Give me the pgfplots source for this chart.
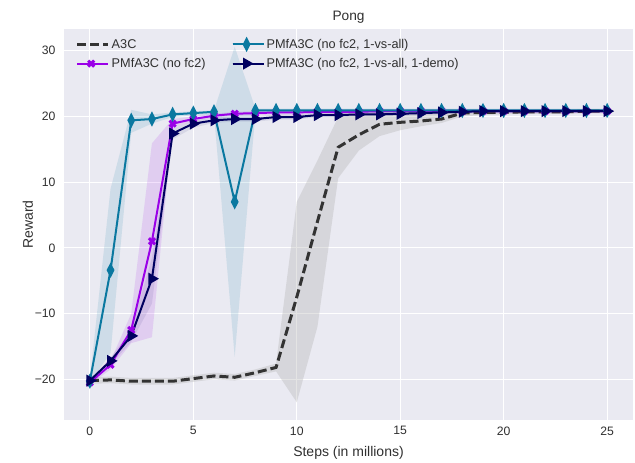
\documentclass[border=0pt]{standalone}
\usepackage{pgfplots}
\pgfplotsset{compat=1.18}
\usepackage{fontspec}
\setmainfont{Liberation Sans}
\usetikzlibrary{plotmarks,calc}
\definecolor{sbbg}{HTML}{EAEAF2}
\definecolor{cteal}{HTML}{0A78A0}
\definecolor{cpurp}{HTML}{9A00E8}
\definecolor{cnavy}{HTML}{000060}
\definecolor{cgray}{HTML}{333333}
\definecolor{txt}{HTML}{303030}
\begin{document}
\begin{tikzpicture}
\begin{axis}[
  name=ax,
  scale only axis, width=569pt, height=391pt,
  xmin=-1.25, xmax=26.25, ymin=-26.2, ymax=33.3,
  axis background/.style={fill=sbbg},
  axis line style={draw=none},
  major tick length=0pt,
  grid=major, grid style={white, line width=1pt},
  xtick={0,5,10,15,20,25}, xticklabels={0,5,10,15,20,25},
  ytick={-20,-10,0,10,20,30}, yticklabels={−20,−10,0,10,20,30},
  tick label style={font=\fontsize{12.2}{14}\selectfont, text=txt},
  xticklabel style={yshift=-3pt},
  yticklabel style={xshift=-5pt},
  xlabel={Steps (in millions)}, ylabel={Reward},
  xlabel style={font=\fontsize{14}{16}\selectfont, text=txt, at={(axis description cs:0.5,-0.0844)}, anchor=center},
  ylabel style={font=\fontsize{14}{16}\selectfont, text=txt, at={(axis description cs:-0.0633,0.5)}, anchor=center},
  title={Pong}, title style={font=\fontsize{13.7}{16}\selectfont, text=txt, yshift=-3.5pt},
  legend columns=2, transpose legend,
  legend style={at={(axis description cs:0.015,0.985)}, anchor=north west, draw=none, fill=none,
    font=\fontsize{12.7}{15}\selectfont, text=txt,
    /tikz/every even column/.append style={column sep=24pt},
    row sep=4.5pt},
  legend cell align=left,
  legend image code/.code={\path (0pt,0pt) -- (31pt,0pt); \draw[mark repeat=2,mark phase=2,#1] plot coordinates {(0pt,0pt)(14pt,0pt)(28pt,0pt)};},
]
% bands
\addplot[fill=gray!60, fill opacity=0.35, draw=none, forget plot] coordinates {
(0,-19.7)(1,-19.6)(2,-19.8)(3,-19.8)(4,-19.8)(5,-19.4)(6,-19.0)(7,-19.2)(8,-18.5)(9,-17.6)(10,7)(11,13.3)(12,19.9)(13,20.5)(14,20.7)(15,20.8)(16,20.8)(17,20.9)(18,21.0)(19,21.0)(20,21.0)(21,21.0)(22,21.1)(23,21.1)(24,21.1)(25,21.1)
(25,20.5)(24,20.5)(23,20.4)(22,20.4)(21,20.4)(20,20.3)(19,20.2)(18,20.0)(17,19.0)(16,18.5)(15,17.9)(14,17.0)(13,14.8)(12,10.6)(11,-12)(10,-23.5)(9,-18.8)(8,-19.5)(7,-20.2)(6,-20.0)(5,-20.4)(4,-20.8)(3,-20.8)(2,-20.8)(1,-20.6)(0,-20.7)} -- cycle;
\addplot[fill=cpurp, fill opacity=0.12, draw=none, forget plot] coordinates {
(0,-20.2)(1,-17.2)(2,-10)(3,15.9)(4,19.6)(5,20.0)(6,20.4)(7,20.7)(8,20.8)(9,20.9)(10,20.9)(11,21.0)(12,21.0)(13,21.0)(14,21.1)(15,21.1)(16,21.1)(17,21.1)(18,21.1)(19,21.1)(20,21.1)(21,21.1)(22,21.1)(23,21.1)(24,21.1)(25,21.1)
(25,20.5)(24,20.5)(23,20.5)(22,20.5)(21,20.5)(20,20.5)(19,20.5)(18,20.5)(17,20.5)(16,20.5)(15,20.5)(14,20.5)(13,20.4)(12,20.4)(11,20.4)(10,20.3)(9,20.3)(8,20.2)(7,20.1)(6,19.8)(5,19.2)(4,18.3)(3,-13.6)(2,-14.5)(1,-18.5)(0,-20.8)} -- cycle;
\addplot[fill=cteal, fill opacity=0.12, draw=none, forget plot] coordinates {
(0,-20.0)(1,9)(2,21.0)(3,20.3)(4,20.6)(5,20.8)(6,20.9)(7,30.6)(8,21.2)(9,21.2)(10,21.2)(11,21.2)(12,21.2)(13,21.2)(14,21.2)(15,21.2)(16,21.2)(17,21.2)(18,21.2)(19,21.2)(20,21.2)(21,21.2)(22,21.2)(23,21.2)(24,21.2)(25,21.2)
(25,20.6)(24,20.6)(23,20.6)(22,20.6)(21,20.6)(20,20.6)(19,20.6)(18,20.6)(17,20.6)(16,20.6)(15,20.6)(14,20.6)(13,20.6)(12,20.6)(11,20.6)(10,20.6)(9,20.6)(8,20.5)(7,-16.6)(6,20.3)(5,20.1)(4,19.9)(3,18.9)(2,17.5)(1,-16)(0,-20.5)} -- cycle;
\addplot[fill=cnavy, fill opacity=0.08, draw=none, forget plot] coordinates {
(0,-20.0)(1,-16.7)(2,-12.5)(3,-1.5)(4,18.2)(5,19.3)(6,19.8)(7,20.0)(8,20.0)(9,20.3)(10,20.3)(11,20.5)(12,20.5)(13,20.6)(14,20.6)(15,20.7)(16,20.8)(17,20.9)(18,21.0)(19,21.1)(20,21.1)(21,21.1)(22,21.1)(23,21.1)(24,21.1)(25,21.1)
(25,20.5)(24,20.5)(23,20.5)(22,20.5)(21,20.5)(20,20.5)(19,20.5)(18,20.4)(17,20.3)(16,20.2)(15,20.1)(14,20.0)(13,20.0)(12,19.9)(11,19.9)(10,19.5)(9,19.5)(8,19.2)(7,19.2)(6,19.0)(5,18.3)(4,16.5)(3,-8.5)(2,-14.3)(1,-17.8)(0,-20.5)} -- cycle;
% lines
\addplot[cgray, line width=3pt, dash pattern=on 9pt off 4pt] coordinates {
(0,-20.2)(1,-20.1)(2,-20.3)(3,-20.3)(4,-20.3)(5,-19.9)(6,-19.5)(7,-19.7)(8,-19.0)(9,-18.2)(10,-7.5)(11,4)(12,15.3)(13,17.2)(14,18.8)(15,19.1)(16,19.3)(17,19.6)(18,20.5)(19,20.6)(20,20.6)(21,20.7)(22,20.7)(23,20.7)(24,20.8)(25,20.8)};
\addlegendentry{A3C}
\addplot[cpurp, line width=2pt, mark=x, mark size=4.3pt, mark options={line width=3pt, solid}] coordinates {
(0,-20.5)(1,-17.8)(2,-12.5)(3,1.0)(4,18.9)(5,19.6)(6,20.1)(7,20.4)(8,20.5)(9,20.6)(10,20.6)(11,20.7)(12,20.7)(13,20.7)(14,20.8)(15,20.8)(16,20.8)(17,20.8)(18,20.8)(19,20.8)(20,20.8)(21,20.8)(22,20.8)(23,20.8)(24,20.8)(25,20.8)};
\addlegendentry{PMfA3C (no fc2)}
\addplot[cteal, line width=2pt, mark=diamond*, mark size=5.5pt, mark options={xscale=0.68, solid}] coordinates {
(0,-20.3)(1,-3.4)(2,19.4)(3,19.6)(4,20.3)(5,20.5)(6,20.7)(7,7.0)(8,20.9)(9,20.9)(10,20.9)(11,20.9)(12,20.9)(13,20.9)(14,20.9)(15,20.9)(16,20.9)(17,20.9)(18,20.9)(19,20.9)(20,20.9)(21,20.9)(22,20.9)(23,20.9)(24,20.9)(25,20.9)};
\addlegendentry{PMfA3C (no fc2, 1-vs-all)}
\addplot[cnavy, line width=2pt, mark=triangle*, mark size=5pt, mark options={rotate=-90, solid}] coordinates {
(0,-20.2)(1,-17.2)(2,-13.4)(3,-4.7)(4,17.4)(5,18.9)(6,19.4)(7,19.6)(8,19.6)(9,19.9)(10,19.9)(11,20.2)(12,20.2)(13,20.3)(14,20.3)(15,20.4)(16,20.5)(17,20.6)(18,20.7)(19,20.8)(20,20.8)(21,20.8)(22,20.8)(23,20.8)(24,20.8)(25,20.8)};
\addlegendentry{PMfA3C (no fc2, 1-vs-all, 1-demo)}
\end{axis}
\pgfresetboundingbox
\path ($(ax.south west)+(-64pt,-42pt)$) rectangle ($(ax.north east)+(2pt,29pt)$);
\end{tikzpicture}
\end{document}
